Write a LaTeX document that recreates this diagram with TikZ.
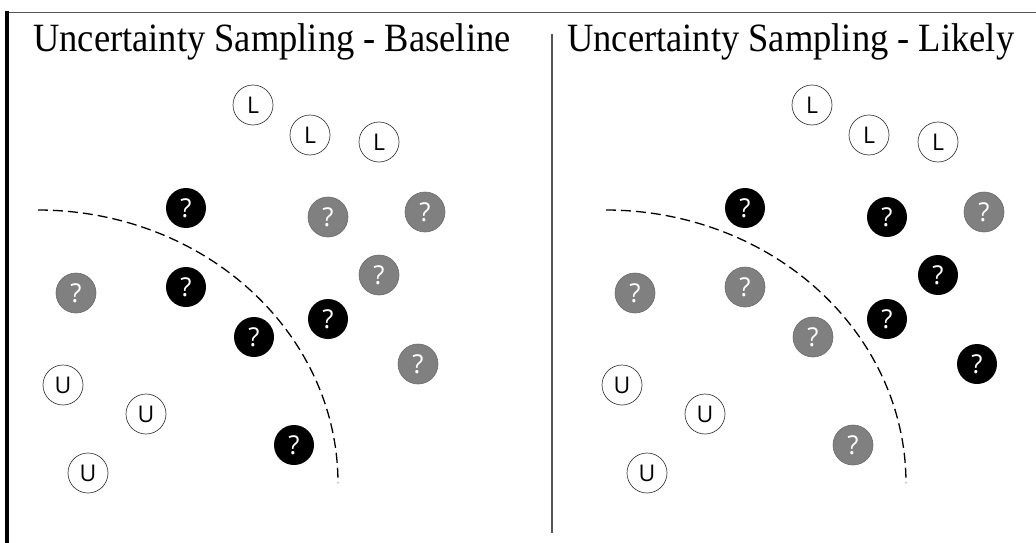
\documentclass[tikz,border=0pt]{standalone}
\usepackage{fontspec}
\setmainfont{Liberation Serif}
\newfontfamily\dotfont{Open Sans}
\definecolor{framegray}{HTML}{555555}
\definecolor{dotgray}{HTML}{808080}
\definecolor{dotedge}{HTML}{6A6A6A}
\newcommand{\tallfont}[1]{\scalebox{1}[1.1]{#1}}
\begin{document}
\begin{tikzpicture}[x=1pt,y=-1pt,
  dotbase/.style={circle,minimum size=40pt,inner sep=0pt},
  known/.style={dotbase,draw=black!75,line width=0.7pt,fill=white,text=black,
    font=\dotfont\fontsize{23}{23}\selectfont},
  greyq/.style={dotbase,draw=dotedge,line width=0.6pt,fill=dotgray,text=white,
    font=\dotfont\fontsize{26}{26}\selectfont},
  blackq/.style={dotbase,fill=black,text=white,
    font=\dotfont\fontsize{26}{26}\selectfont},
  boundary/.style={line width=1.3pt,dash pattern=on 10pt off 5pt},
  title/.style={anchor=base west,inner sep=0pt,
    font=\fontsize{36.5}{40}\selectfont}]
\useasboundingbox (0,0) rectangle (1036,543);

% frame and divider
\draw[framegray,line width=1.5pt] (7,12.5) -- (1036,12.5);
\draw[black,line width=4pt] (7,11) -- (7,543);
\draw[framegray,line width=1.2pt] (552,34) -- (552,533);

% titles
\node[title] (tleft) at (33,52) {\tallfont{Uncertainty Sampling - Baseline}};
\node[title] (tright) at (567,52) {\tallfont{Uncertainty Sampling - Likely}};

% decision boundaries
\draw[boundary] plot[domain=90:0,samples=80,smooth]
  ({38+300*cos(\x)},{483-273*sin(\x)});
\draw[boundary] plot[domain=90:0,samples=80,smooth]
  ({606+300*cos(\x)},{483-273*sin(\x)});

% left panel: baseline
\node[known] (aL1) at (253,105) {L};
\node[known] (aL2) at (310,135) {L};
\node[known] (aL3) at (379,142) {L};
\node[blackq] (aQ1) at (186,208) {?};
\node[greyq]  (aQ2) at (328,217) {?};
\node[greyq]  (aQ3) at (425,212) {?};
\node[greyq]  (aQ4) at (379,275) {?};
\node[greyq]  (aQ5) at (76,293) {?};
\node[blackq] (aQ6) at (186,287) {?};
\node[blackq] (aQ7) at (254,337) {?};
\node[blackq] (aQ8) at (328,319) {?};
\node[greyq]  (aQ9) at (418,364) {?};
\node[blackq] (aQ10) at (294,445) {?};
\node[known] (aU1) at (63,385) {U};
\node[known] (aU2) at (146,414) {U};
\node[known] (aU3) at (88,473) {U};

% right panel: likely
\begin{scope}[xshift=559pt]
\node[known] (bL1) at (253,105) {L};
\node[known] (bL2) at (310,135) {L};
\node[known] (bL3) at (379,142) {L};
\node[blackq] (bQ1) at (186,208) {?};
\node[blackq] (bQ2) at (328,217) {?};
\node[greyq]  (bQ3) at (425,212) {?};
\node[blackq] (bQ4) at (379,275) {?};
\node[greyq]  (bQ5) at (76,293) {?};
\node[greyq]  (bQ6) at (186,287) {?};
\node[greyq]  (bQ7) at (254,337) {?};
\node[blackq] (bQ8) at (328,319) {?};
\node[blackq] (bQ9) at (418,364) {?};
\node[greyq]  (bQ10) at (294,445) {?};
\node[known] (bU1) at (63,385) {U};
\node[known] (bU2) at (146,414) {U};
\node[known] (bU3) at (88,473) {U};
\end{scope}
\end{tikzpicture}
\end{document}
